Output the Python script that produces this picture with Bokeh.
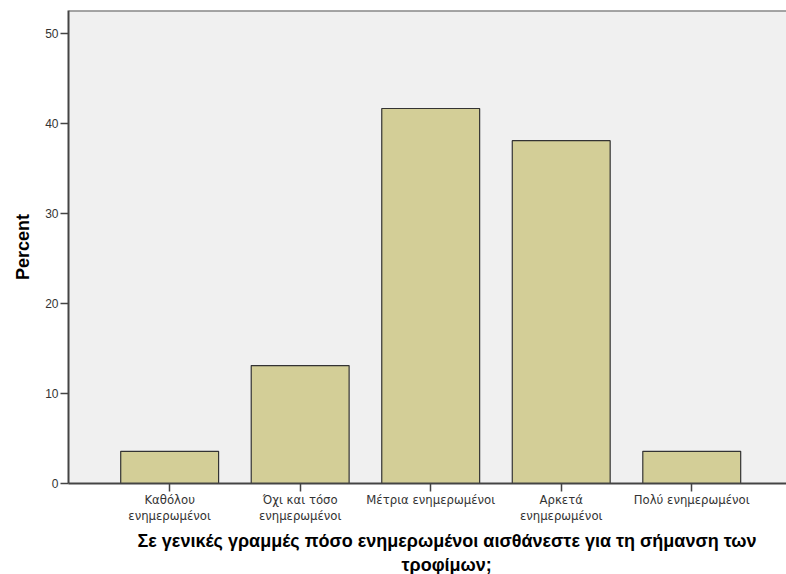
from bokeh.plotting import figure
from bokeh.models import Range1d, FixedTicker, Title, Span
from bokeh.embed import file_html
from bokeh.resources import INLINE

categories = ["Καθόλου\nενημερωμένοι", "Όχι και τόσο\nενημερωμένοι", "Μέτρια ενημερωμένοι",
              "Αρκετά\nενημερωμένοι", "Πολύ ενημερωμένοι"]
percent = [3.57, 13.10, 41.67, 38.10, 3.57]
y_ticks = [0, 10, 20, 30, 40, 50]
x_title_1 = "Σε γενικές γραμμές πόσο ενημερωμένοι αισθάνεστε για τη σήμανση των"
x_title_2 = "τροφίμων;"
y_title = "Percent"

FONT = "Liberation Sans"
TICK_FONT = "DejaVu Sans"
positions = list(range(len(categories)))
Y_MAX = 52.56

p = figure(width=786, height=574, output_backend="svg", toolbar_location=None,
           x_range=Range1d(-0.775, 4.726), y_range=Range1d(0, Y_MAX),
           min_border_left=67, min_border_right=0, min_border_top=10, min_border_bottom=91)
p.background_fill_color = "#f0f0f0"
p.border_fill_color = "white"
p.outline_line_color = None
p.xgrid.visible = False
p.ygrid.visible = False

p.vbar(x=positions, top=percent, width=0.75, bottom=0,
       fill_color="#d3ce97", line_color="#333333", line_width=1.2)

p.add_layout(Span(location=Y_MAX, dimension="width", line_color="#555555", line_width=2))

# x axis
p.xaxis.ticker = FixedTicker(ticks=positions)
p.xaxis.major_label_overrides = {i: c for i, c in enumerate(categories)}
p.xaxis.major_label_text_font = TICK_FONT
p.xaxis.major_label_text_font_size = "11.7px"
p.xaxis.major_label_text_color = "#333333"
p.xaxis.major_tick_in = 0
p.xaxis.major_tick_out = 8
p.xaxis.minor_tick_line_color = None
p.xaxis.axis_line_color = "#444444"
p.xaxis.axis_line_width = 2
p.xaxis.major_tick_line_color = "#444444"
p.xaxis.major_tick_line_width = 1.5
p.xaxis.major_label_standoff = 1

# y axis
p.yaxis.ticker = FixedTicker(ticks=y_ticks)
p.yaxis.major_label_text_font = FONT
p.yaxis.major_label_text_font_size = "12px"
p.yaxis.major_label_text_color = "#333333"
p.yaxis.major_tick_in = 0
p.yaxis.major_tick_out = 8
p.yaxis.minor_tick_line_color = None
p.yaxis.axis_line_color = "#444444"
p.yaxis.axis_line_width = 2
p.yaxis.major_tick_line_color = "#444444"
p.yaxis.major_tick_line_width = 1.5
p.yaxis.major_label_standoff = 2

p.add_layout(Title(text=y_title, align="center", text_font=FONT, text_font_size="18px",
                   text_font_style="bold", text_color="black", standoff=20), "left")

# x-axis title: two lines, centred a little right of the frame centre
p.add_layout(Title(text=x_title_1, align="left", offset=69, text_font=FONT,
                   text_font_size="18px", text_font_style="bold", text_color="black",
                   standoff=4), "below")
p.add_layout(Title(text=x_title_2, align="left", offset=333, text_font=FONT,
                   text_font_size="18px", text_font_style="bold", text_color="black",
                   standoff=0), "below")

open("out.html", "w").write(file_html(p, INLINE))
